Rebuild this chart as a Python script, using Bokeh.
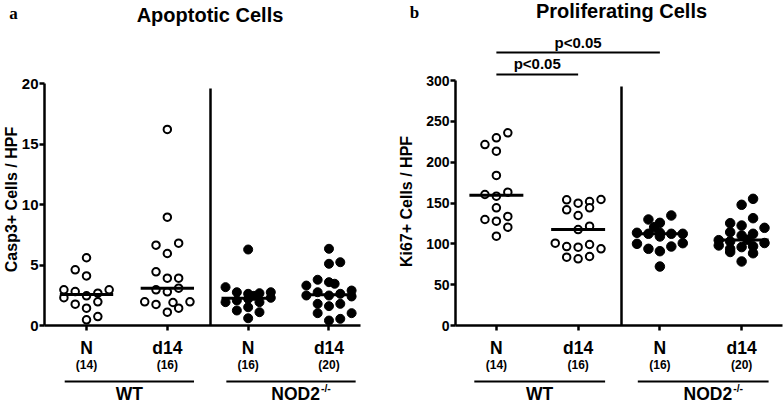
import numpy as np
from bokeh.plotting import figure
from bokeh.layouts import row
from bokeh.models import Range1d, FixedTicker, Label
from bokeh.core.properties import value
from bokeh.embed import file_html
from bokeh.resources import INLINE

# ---------------- data ----------------
category_labels = ["N", "d14", "N", "d14"]
group_labels = ["WT", "NOD2"]
group_members = [[1, 2], [3, 4]]
n_labels = ["(14)", "(16)", "(16)", "(20)"]
filled = [False, False, True, True]

casp3_wt_n = [5.6, 4.6, 4.1, 2.95, 2.8, 2.45, 2.67, 2.95, 2.3, 1.76, 1.96, 1.43, 0.74, 0.47]
casp3_wt_n_slot = [0, -1, 0, -2, -1, 0, 1, 2, -2, -1, 1, 0, 1, 0]
casp3_wt_d14 = [16.2, 8.95, 6.64, 6.8, 5.95, 4.44, 3.91, 3.91, 2.95, 2.78, 3.08, 1.96, 1.74, 1.9, 1.96, 1.43, 1.1]
casp3_wt_d14_slot = [0, 0, -1, 1, 0, -1, 0, 1, -1, 0, 1, -2, -1, 0.5, 2, 1, 0]
casp3_ko_n = [6.28, 3.17, 2.75, 2.62, 2.67, 2.75, 2.45, 1.93, 2.07, 2.2, 1.93, 2.29, 1.24, 1.51, 1.1, 0.6]
casp3_ko_n_slot = [0, -2, -1, 0, 1, 2, 0.5, -2, -1, 0, 1, 2, -1, 0, 1, 0]
casp3_ko_d14 = [6.34, 5.1, 5.23, 3.78, 3.58, 3.45, 3.3, 2.48, 2.75, 2.48, 2.62, 2.89, 2.4, 1.79, 1.6, 1.79, 1.02, 1.02, 0.55, 0.41]
casp3_ko_d14_slot = [0, 0, 1, -1, 0, 0.5, -2, -2, -1, 0, 1, 2, 2, -1, 0, 1, -1, 2, 1, 0]

ki67_wt_n = [236, 229.8, 221.6, 213.4, 183.7, 160.4, 158.3, 163.2, 144.1, 129.8, 127.7, 133.5, 120.4, 109.4]
ki67_wt_n_slot = [1, 0, -1, 0, 0, -1, 0, 1, 0, -1, 0, 1, 1, 0]
ki67_wt_d14 = [153.9, 149.8, 151.8, 154.3, 141.7, 144.1, 134.7, 117.5, 121.6, 100.8, 96.7, 95.9, 99.2, 93.9, 83.7, 81.6, 84.5]
ki67_wt_d14_slot = [-1, 0, 1, 2, -1, 1, 0, 0, 1, -2, -1, 0, 1, 2, -1, 0, 1]
ki67_ko_n = [134.7, 129.8, 125.7, 120.4, 113.5, 112.3, 113.5, 112.3, 112.3, 109, 100, 100.8, 96.7, 93.9, 91, 72.2]
ki67_ko_n_slot = [1, -1, 0, -0.5, -2, -1, 0, 1, 2, 0, -2, 2, 1, -1, 0, 0]
ki67_ko_d14 = [155.1, 147.8, 131.4, 125.3, 122.4, 119.6, 114.3, 112.3, 110.2, 104.5, 105, 103, 101, 98, 96, 93.9, 97, 88.5, 90, 78.4]
ki67_ko_d14_slot = [1, 0, 1, -1, 0, 2, -1, 1, 0, -2, 0.5, -1, 2, -2, 0, -1, 1, 1, -1, 0]

casp3_ticks = [0, 5, 10, 15, 20]
ki67_ticks = [0, 50, 100, 150, 200, 250, 300]

sig_pairs = [(1, 3), (1, 2)]
sig_labels = ["p<0.05", "p<0.05"]

FONT = "Liberation Sans"
SERIF = "Liberation Serif"
W, H = 392, 405


def make_panel(cfg):
    x0p = cfg["fig_x0"]                     # page x of the figure's left edge
    axl, axr = cfg["axis_left"], cfg["axis_right"]   # page x of x-axis ends
    xa0, xa1 = cfg["x_axis_start"], cfg["x_axis_end"]
    xscale = (axr - axl) / (xa1 - xa0)
    zero = cfg["zero_page"]
    yscale = (zero - cfg["top_tick_page"]) / cfg["ticks"][-1]

    def px(page_x):
        return xa0 + (page_x - axl) / xscale

    def py(page_y):
        return (zero - page_y) / yscale

    p = figure(width=W, height=H,
               x_range=Range1d(px(x0p), px(x0p + W)), y_range=Range1d(py(H), py(0)),
               output_backend="svg", toolbar_location=None,
               min_border_left=0, min_border_right=0, min_border_top=0, min_border_bottom=0)
    p.xgrid.visible = False
    p.ygrid.visible = False
    p.outline_line_color = None
    p.background_fill_color = "white"
    p.border_fill_color = "white"

    ya = p.yaxis[0]
    ya.fixed_location = xa0
    ya.ticker = FixedTicker(ticks=cfg["ticks"])
    ya.bounds = (0, cfg["ticks"][-1])
    ya.axis_line_width = 2.5
    ya.major_tick_line_width = 2.5
    ya.major_tick_out = 5
    ya.major_tick_in = 0
    ya.minor_tick_line_color = None
    ya.major_label_text_font = FONT
    ya.major_label_text_font_style = "bold"
    ya.major_label_text_font_size = cfg["ytick_size"]
    ya.major_label_text_color = "black"
    ya.major_label_standoff = 1

    xa = p.xaxis[0]
    xa.fixed_location = 0
    xa.bounds = (xa0, xa1)
    xa.ticker = FixedTicker(ticks=[1, 2, 3, 4])
    xa.major_label_overrides = {i + 1: lab for i, lab in enumerate(category_labels)}
    xa.axis_line_width = 2.5
    xa.major_tick_line_width = 2.5
    xa.major_tick_out = 5
    xa.major_tick_in = 0
    xa.minor_tick_line_color = None
    xa.major_label_text_font = FONT
    xa.major_label_text_font_style = "bold"
    xa.major_label_text_font_size = "17.5px"
    xa.major_label_text_color = "black"
    xa.major_label_standoff = 7

    # divider between genotypes
    div_x = px(cfg["divider_page"])
    p.segment(x0=[div_x], x1=[div_x], y0=[0], y1=[py(cfg["divider_top_page"])],
              line_color="black", line_width=2.5)

    slot = 0.14
    for i, (vals, slots) in enumerate(cfg["groups"]):
        c = i + 1
        xsd = [c + s * slot for s in slots]
        if filled[i]:
            p.scatter(xsd, vals, marker="circle", size=cfg["fsize"], fill_color="black",
                      line_color="black", line_width=1)
        else:
            p.scatter(xsd, vals, marker="circle", size=cfg["osize"], fill_color="white",
                      line_color="black", line_width=2)
        med = float(np.median(vals))
        p.segment(x0=[c - 0.33], x1=[c + 0.33], y0=[med], y1=[med],
                  line_color="black", line_width=3)

    # counts
    p.text(x=[1, 2, 3, 4], y=[py(364)] * 4, text=n_labels, text_font=value(FONT),
           text_font_style="bold", text_font_size="12px", text_align="center",
           text_baseline="middle", text_color="black")

    # group underlines and labels
    for g, members in enumerate(group_members):
        cen = (members[0] + members[-1]) / 2 + 0.03
        p.segment(x0=[cen - 0.8], x1=[cen + 0.8], y0=[py(381)], y1=[py(381)],
                  line_color="black", line_width=2.2)
    p.add_layout(Label(x=1.53, y=py(393), text=group_labels[0], text_font=FONT,
                       text_font_style="bold", text_font_size="17.5px", text_align="center",
                       text_baseline="middle", text_color="black"))
    p.add_layout(Label(x=3.64, y=py(393), x_offset=20, text=group_labels[1], text_font=FONT,
                       text_font_style="bold", text_font_size="17.5px", text_align="right",
                       text_baseline="middle", text_color="black"))
    p.add_layout(Label(x=3.64, y=py(387), x_offset=21, text="-/-", text_font=FONT,
                       text_font_style="bold", text_font_size="10.5px", text_align="left",
                       text_baseline="middle", text_color="black"))

    # title and panel letter
    p.add_layout(Label(x=px(cfg["title_pos"][0]), y=py(cfg["title_pos"][1]), text=cfg["title"],
                       text_font=FONT, text_font_style="bold", text_font_size="20px",
                       text_align="center", text_baseline="middle", text_color="black"))
    p.add_layout(Label(x=px(cfg["letter_pos"][0]), y=py(cfg["letter_pos"][1]), text=cfg["letter"],
                       text_font=SERIF, text_font_style="bold", text_font_size="17px",
                       text_align="center", text_baseline="middle", text_color="black"))
    # y axis label
    p.add_layout(Label(x=px(cfg["ylabel_pos"][0]), y=py(cfg["ylabel_pos"][1]), text=cfg["ylabel"],
                       angle=np.pi / 2, text_font=FONT, text_font_style="bold",
                       text_font_size=cfg["ylabel_size"], text_align="center",
                       text_baseline="middle", text_color="black"))

    # significance bars
    if cfg.get("sig"):
        for (a, b), lab, (ly, ty) in zip(sig_pairs, sig_labels, cfg["sig_pages"]):
            p.segment(x0=[a], x1=[b], y0=[py(ly)], y1=[py(ly)], line_color="black", line_width=2)
            p.add_layout(Label(x=(a + b) / 2, y=py(ty), text=lab, text_font=FONT,
                               text_font_style="bold", text_font_size="15px",
                               text_align="center", text_baseline="middle", text_color="black"))
    return p


left_cfg = dict(
    fig_x0=0, axis_left=44, axis_right=360, x_axis_start=0.48, x_axis_end=4.39,
    zero_page=325, top_tick_page=83, ticks=casp3_ticks, ytick_size="15px",
    divider_page=210, divider_top_page=88,
    groups=[(casp3_wt_n, casp3_wt_n_slot), (casp3_wt_d14, casp3_wt_d14_slot),
            (casp3_ko_n, casp3_ko_n_slot), (casp3_ko_d14, casp3_ko_d14_slot)],
    osize=7.5, fsize=9,
    title="Apoptotic Cells", title_pos=(209.5, 14),
    letter="a", letter_pos=(13, 13),
    ylabel="Casp3+ Cells / HPF", ylabel_pos=(10.5, 199), ylabel_size="16px",
)

right_cfg = dict(
    fig_x0=392, axis_left=455, axis_right=782, x_axis_start=0.5, x_axis_end=4.5,
    zero_page=325, top_tick_page=80, ticks=ki67_ticks, ytick_size="14px",
    divider_page=621, divider_top_page=86,
    groups=[(ki67_wt_n, ki67_wt_n_slot), (ki67_wt_d14, ki67_wt_d14_slot),
            (ki67_ko_n, ki67_ko_n_slot), (ki67_ko_d14, ki67_ko_d14_slot)],
    osize=7.5, fsize=9.5,
    title="Proliferating Cells", title_pos=(621, 10),
    letter="b", letter_pos=(414, 12),
    ylabel="Ki67+ Cells / HPF", ylabel_pos=(406, 201), ylabel_size="16px",
    sig=True, sig_pages=[(52, 42), (74, 63)],
)

left = make_panel(left_cfg)
right = make_panel(right_cfg)
layout = row(left, right)

open("out.html", "w").write(file_html(layout, INLINE))
